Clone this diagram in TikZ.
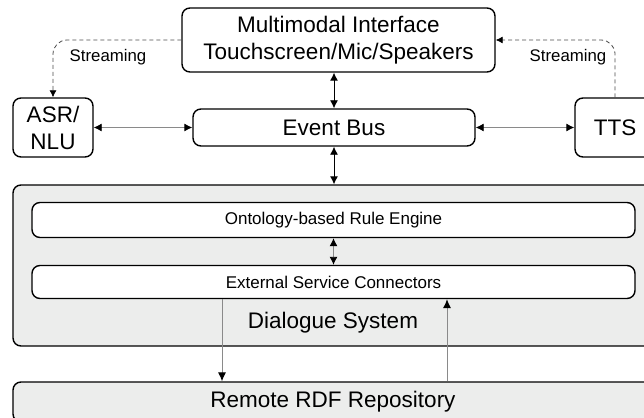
\documentclass[tikz,border=0pt]{standalone}
\usepackage{fontspec}
\setmainfont{Liberation Sans}
\usetikzlibrary{arrows.meta}
\definecolor{panelgray}{HTML}{ECEDEC}
\definecolor{linkgray}{HTML}{8A8A8A}

\begin{document}
\begin{tikzpicture}[x=1pt, y=-1pt,
  box/.style={draw=black, line width=1.4pt, rounded corners=8pt, fill=white, inner sep=0pt, align=center, font=\fontsize{22.5}{27}\selectfont},
  smallbox/.style={box, font=\fontsize{17}{20}\selectfont},
  panel/.style={box, fill=panelgray},
  biarrow/.style={line width=0.9pt, {Latex[length=8pt,width=8pt,color=black]}-{Latex[length=8pt,width=8pt,color=black]}},
  greyarrow/.style={biarrow, draw=linkgray},
  onearrow/.style={line width=0.9pt, draw=linkgray, -{Latex[length=9pt,width=8pt,color=black]}},
  stream/.style={line width=0.8pt, draw=black!70, dash pattern=on 4pt off 3pt, rounded corners=14pt, -{Latex[length=7pt,width=7pt,color=black]}},
  lbl/.style={inner sep=0pt, font=\fontsize{16.8}{20}\selectfont}]
\useasboundingbox (0,0) rectangle (644,417);
\clip (0,0) rectangle (644,417);
% Top row
\node[box, minimum width=313pt, minimum height=64pt] (mmi) at (338.5,40) {Multimodal Interface\\Touchscreen/Mic/Speakers};
\node[box, minimum width=80pt, minimum height=59pt] (asr) at (53,127.5) {ASR/\\NLU};
\node[box, minimum width=282pt, minimum height=37pt] (bus) at (334,127.5) {Event Bus};
\node[box, minimum width=80pt, minimum height=59pt] (tts) at (615,127.5) {TTS};
% Dialogue system
\node[panel, minimum width=640pt, minimum height=161pt] (dlg) at (333,265.5) {};
\node[smallbox, minimum width=603pt, minimum height=35pt] (rule) at (333.5,220) {Ontology-based Rule Engine};
\node[smallbox, minimum width=603pt, minimum height=33pt] (ext) at (333.5,282) {External Service Connectors};
\node[inner sep=0pt, font=\fontsize{22.5}{27}\selectfont] (dlglabel) at (333,323) {Dialogue System};
% Repository
\node[panel, minimum width=640pt, minimum height=40pt] (rdf) at (333,402) {Remote RDF Repository};
% Links
\draw[biarrow] (bus.north) -- (bus.north |- mmi.south);
\draw[biarrow] (bus.south) -- (bus.south |- dlg.north);
\draw[greyarrow] (asr.east) -- (bus.west);
\draw[greyarrow] (bus.east) -- (tts.west);
\draw[greyarrow] (rule.south) -- (ext.north);
\draw[onearrow] ([xshift=-111.5pt]ext.south) -- ([xshift=-111.5pt]ext.south |- rdf.north);
\draw[onearrow] ([xshift=113.5pt]ext.south |- rdf.north) -- ([xshift=113.5pt]ext.south);
% Streaming
\draw[stream] (mmi.west) -| (asr.north);
\draw[stream] (tts.north) |- (mmi.east);
\node[lbl] (streamleft) at (108,57) {Streaming};
\node[lbl] (streamright) at (568,57) {Streaming};
\end{tikzpicture}
\end{document}
